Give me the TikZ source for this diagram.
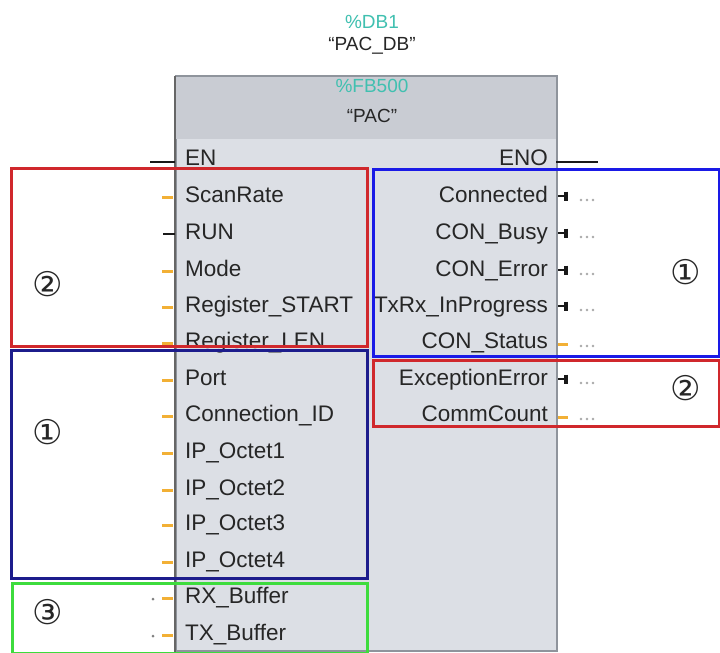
\documentclass[tikz,border=0pt]{standalone}
\usepackage{fontspec}
\setmainfont{Liberation Sans}
\newfontfamily\circfont{DejaVu Sans}
\usetikzlibrary{calc}
\definecolor{hlred}{HTML}{D0282C}
\definecolor{hlnavy}{HTML}{1C1C8C}
\definecolor{hlblue}{HTML}{1A1AE6}
\definecolor{hlgreen}{HTML}{3DDC3D}
\definecolor{pinorange}{HTML}{F2B035}
\definecolor{tealtxt}{HTML}{40C0B0}
\definecolor{hdrfill}{HTML}{C9CCD3}
\definecolor{bodyfill}{HTML}{DCDFE5}
\definecolor{blkborder}{HTML}{8F949C}
\definecolor{dotgrey}{HTML}{A8A8A8}
\tikzset{
  pinlbl/.style={font=\fontsize{22.5}{24}\selectfont, text=black!85, text height=16pt, text depth=0pt, inner sep=0pt},
  inlbl/.style={pinlbl, anchor=west},
  outlbl/.style={pinlbl, anchor=east},
  orstub/.style={draw=pinorange, line width=3pt},
  blkstub/.style={draw=black!90, line width=2.6pt},
  hlbox/.style={line width=3pt},
  circnum/.style={font=\circfont\fontsize{34}{36}\selectfont, inner sep=0pt, text=black!85},
  titletxt/.style={font=\fontsize{19}{21}\selectfont, inner sep=0pt}
}
\begin{document}
\begin{tikzpicture}[x=1pt,y=-1pt]
\useasboundingbox (0,0) rectangle (720,653);
\fill[white] (0,0) rectangle (720,653);
% block
\node[draw=blkborder, line width=1.5pt, fill=bodyfill, minimum width=381pt, minimum height=574pt, anchor=north west, inner sep=0pt] (block) at (175,76) {};
\node[fill=hdrfill, minimum width=380pt, minimum height=62pt, anchor=north west, inner sep=0pt] (hdr) at (175.5,76.5) {};
\draw[blkborder, line width=1.5pt] (block.north west) -- (block.north east);
\draw[black!60, line width=1.5pt] (block.north west) -- (block.south west);
% titles
\node[titletxt, text=tealtxt] (db) at (372,22) {\%DB1};
\node[titletxt, text=black!85] (dbn) at (372,46) {“PAC\_DB”};
\node[titletxt, text=tealtxt] (fb) at (372,86) {\%FB500};
\node[titletxt, text=black!85] (fbn) at (372,116) {“PAC”};
% inputs
\node[inlbl] (en) at (185,157) {EN};
\foreach \nm/\txt/\yy in {i1/ScanRate/194, i3/Mode/268, i4/Register\_START/304, i5/Register\_LEN/340,
  i6/Port/377, i7/Connection\_ID/413, i8/IP\_Octet1/450, i9/IP\_Octet2/487, i10/IP\_Octet3/522, i11/IP\_Octet4/559}{
  \node[inlbl] (\nm) at (185,\yy) {\txt};
  \draw[orstub] ([xshift=-23pt,yshift=-3pt]\nm.west) -- ([xshift=-12pt,yshift=-3pt]\nm.west);
}
\node[inlbl] (i2) at (185,231) {RUN};
\draw[blkstub] ([xshift=-22pt,yshift=-3pt]i2.west) -- ([xshift=-10pt,yshift=-3pt]i2.west);
\draw[blkstub] ([xshift=-35pt,yshift=-5pt]en.west) -- ([xshift=-10pt,yshift=-5pt]en.west);
\foreach \nm/\txt/\yy in {i12/RX\_Buffer/595, i13/TX\_Buffer/632}{
  \node[inlbl] (\nm) at (185,\yy) {\txt};
  \draw[orstub] ([xshift=-23pt,yshift=-3pt]\nm.west) -- ([xshift=-12pt,yshift=-3pt]\nm.west);
  \fill[black!50] ([xshift=-32pt,yshift=-4pt]\nm.west) circle (1.5pt);
}
% outputs
\node[outlbl] (eno) at (548,157) {ENO};
\draw[blkstub] ([xshift=8pt,yshift=-5pt]eno.east) -- ([xshift=50pt,yshift=-5pt]eno.east);
\foreach \nm/\txt/\yy in {o1/Connected/194, o2/CON\_Busy/231, o3/CON\_Error/268, o4/TxRx\_InProgress/304, o6/ExceptionError/377}{
  \node[outlbl] (\nm) at (548,\yy) {\txt};
  \draw[black!90, line width=2.4pt] ([xshift=10pt,yshift=-2pt]\nm.east) -- ([xshift=18pt,yshift=-2pt]\nm.east);
  \draw[black!90, line width=3.4pt] ([xshift=18pt,yshift=2.5pt]\nm.east) -- ([xshift=18pt,yshift=-6.5pt]\nm.east);
  \foreach \dx in {33,39,45}{\fill[dotgrey] ([xshift=\dx pt,yshift=-6pt]\nm.east) circle (1.3pt);}
}
\foreach \nm/\txt/\yy in {o5/CON\_Status/340, o7/CommCount/413}{
  \node[outlbl] (\nm) at (548,\yy) {\txt};
  \draw[orstub] ([xshift=10pt,yshift=-4pt]\nm.east) -- ([xshift=20pt,yshift=-4pt]\nm.east);
  \foreach \dx in {33,39,45}{\fill[dotgrey] ([xshift=\dx pt,yshift=-6pt]\nm.east) circle (1.3pt);}
}
% highlight boxes
\draw[hlbox, hlred] (11,168) rectangle (367,346);
\draw[hlbox, hlnavy] (11,350) rectangle (367,578);
\draw[hlbox, hlgreen] (12,583) rectangle (367,653);
\draw[hlbox, hlblue] (373,169) rectangle (719,356);
\draw[hlbox, hlred] (373,360) rectangle (719,426);
% circled numbers
\node[circnum] (c2l) at (48,284) {②};
\node[circnum] (c1l) at (48,432) {①};
\node[circnum] (c3l) at (48,612) {③};
\node[circnum] (c1r) at (686,272) {①};
\node[circnum] (c2r) at (686,388) {②};
\end{tikzpicture}
\end{document}
